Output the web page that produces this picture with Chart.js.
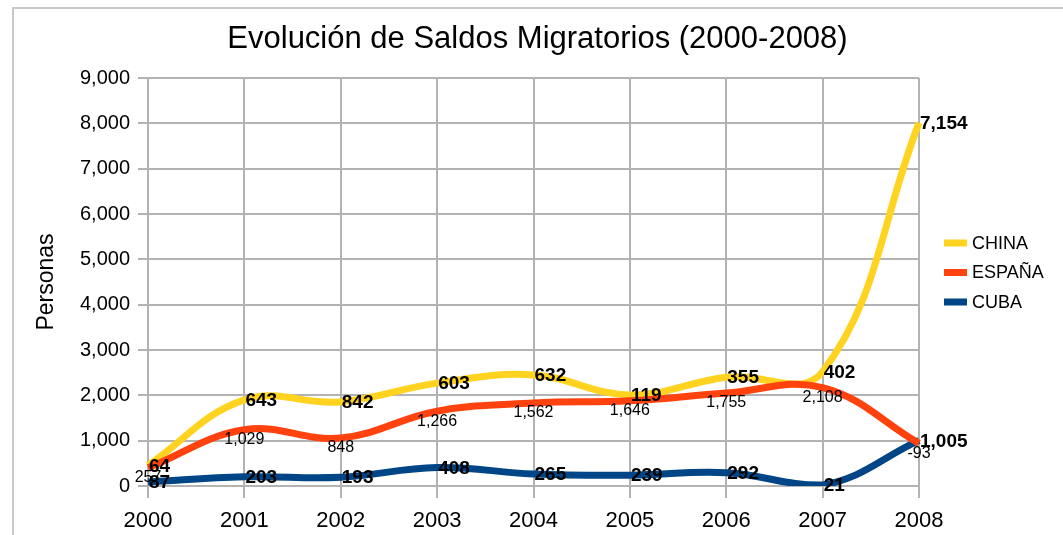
<!DOCTYPE html>
<html>
<head>
<meta charset="utf-8">
<script src="https://cdn.jsdelivr.net/npm/chart.js@4.4.1/dist/chart.umd.min.js"></script>
<style>
  html, body { margin: 0; padding: 0; background: #fff; overflow: hidden; }
  #wrap { position: relative; width: 1063px; height: 535px; }
  #frame { position: absolute; left: 12px; top: 7px; width: 1200px; height: 700px;
           border-left: 2px solid #c8c8c8; border-top: 2px solid #c8c8c8; pointer-events: none; }
  canvas { position: absolute; left: 0; top: 0; }
</style>
</head>
<body>
<div id="wrap">
  <canvas id="c" width="1063" height="535"></canvas>
  <div id="frame"></div>
</div>
<script>
// ---- data ----
const years = ['2000', '2001', '2002', '2003', '2004', '2005', '2006', '2007', '2008'];
const seriesNames = ['CHINA', 'ESPAÑA', 'CUBA'];
const chinaValues  = [450, 1900, 1855, 2270, 2450, 2010, 2400, 2520, 8010];
const espanaValues = [400, 1240, 1060, 1650, 1830, 1880, 2050, 2170, 940];
const cubaValues   = [87, 203, 193, 408, 265, 239, 292, 21, 1005];
const chinaLabels  = ['64', '643', '842', '603', '632', '119', '355', '402', '7,154'];
const espanaLabels = ['257', '1,029', '848', '1,266', '1,562', '1,646', '1,755', '2,108', '-93'];
const cubaLabels   = ['87', '203', '193', '408', '265', '239', '292', '21', '1,005'];
const yMin = 0, yMax = 9000, yStep = 1000;
const titleText = 'Evolución de Saldos Migratorios (2000-2008)';
const yTitleText = 'Personas';

const FONT = "'Liberation Sans', Arial, sans-serif";
Chart.defaults.font.family = FONT;
Chart.defaults.color = '#000';

const colors = { CHINA: '#ffd320', 'ESPAÑA': '#ff420e', CUBA: '#004586' };

const labelPlugin = {
  id: 'valueLabels',
  afterDatasetsDraw(chart) {
    const ctx = chart.ctx;
    ctx.save();
    // draw order: CHINA, CUBA, ESPAÑA
    const order = [0, 2, 1];
    order.forEach(di => {
      const ds = chart.data.datasets[di];
      const meta = chart.getDatasetMeta(di);
      const st = ds.labelStyle;
      ctx.font = st.font;
      ctx.fillStyle = '#000';
      meta.data.forEach((pt, i) => {
        const txt = ds.valueLabels[i];
        if (st.mode === 'right') {
          ctx.textAlign = 'left';
          ctx.textBaseline = 'middle';
          ctx.fillText(txt, pt.x + 1, pt.y + 1);
        } else {
          ctx.textAlign = 'center';
          ctx.textBaseline = 'middle';
          ctx.fillText(txt, pt.x, pt.y + 10);
        }
      });
    });
    ctx.restore();
  },
  afterDraw(chart) {
    const ctx = chart.ctx;
    const a = chart.chartArea;
    ctx.save();
    // title, centred on the page
    ctx.font = '31px ' + FONT;
    ctx.fillStyle = '#000';
    ctx.textAlign = 'center';
    ctx.textBaseline = 'middle';
    ctx.fillText(titleText, chart.width / 2 + 6, 39);
    // legend
    const mid = (a.top + a.bottom) / 2;
    const x0 = a.right + 25;
    ctx.font = '18px ' + FONT;
    ctx.textAlign = 'left';
    seriesNames.forEach((name, i) => {
      const y = mid - 39 + i * 29.5;
      ctx.fillStyle = colors[name];
      ctx.fillRect(x0, y - 3.5, 23, 7);
      ctx.fillStyle = '#000';
      ctx.fillText(name, x0 + 28, y + 1);
    });
    ctx.restore();
  }
};

const gridColor = '#b3b3b3';

new Chart(document.getElementById('c'), {
  type: 'line',
  data: {
    labels: years,
    datasets: [
      { label: 'CHINA', data: chinaValues, borderColor: colors.CHINA, backgroundColor: colors.CHINA,
        valueLabels: chinaLabels, labelStyle: { mode: 'right', font: 'bold 19px ' + FONT }, order: 1 },
      { label: 'ESPAÑA', data: espanaValues, borderColor: colors['ESPAÑA'], backgroundColor: colors['ESPAÑA'],
        valueLabels: espanaLabels, labelStyle: { mode: 'below', font: '16px ' + FONT }, order: 0 },
      { label: 'CUBA', data: cubaValues, borderColor: colors.CUBA, backgroundColor: colors.CUBA,
        valueLabels: cubaLabels, labelStyle: { mode: 'right', font: 'bold 19px ' + FONT }, order: 2 }
    ].map(d => Object.assign(d, { borderWidth: 7, pointRadius: 0, pointHoverRadius: 0,
                                  tension: 0.4, fill: false, borderJoinStyle: 'round' }))
  },
  options: {
    responsive: false,
    animation: false,
    devicePixelRatio: 1,
    events: [],
    layout: { padding: { left: 0, right: 144, top: 78, bottom: 0 } },
    plugins: {
      legend: { display: false },
      tooltip: { enabled: false },
      title: { display: false }
    },
    scales: {
      x: {
        offset: false,
        grid: { color: gridColor, lineWidth: 2, tickLength: 12, drawTicks: true },
        border: { color: gridColor, width: 2 },
        ticks: { font: { size: 22, family: FONT }, color: '#000', padding: 10, maxRotation: 0, autoSkip: false },
        afterFit(scale) { scale.height = 49; }
      },
      y: {
        min: yMin, max: yMax,
        grid: { color: gridColor, lineWidth: 2, tickLength: 10 },
        border: { color: gridColor, width: 2 },
        ticks: { stepSize: yStep, font: { size: 20, family: FONT }, color: '#000', padding: 8,
                 callback: v => v.toLocaleString('en-US') },
        title: { display: true, text: yTitleText, color: '#000',
                 font: { size: 23, family: FONT }, padding: { top: 33 } },
        afterFit(scale) { scale.width = 148; }
      }
    }
  },
  plugins: [labelPlugin]
});
</script>
</body>
</html>
